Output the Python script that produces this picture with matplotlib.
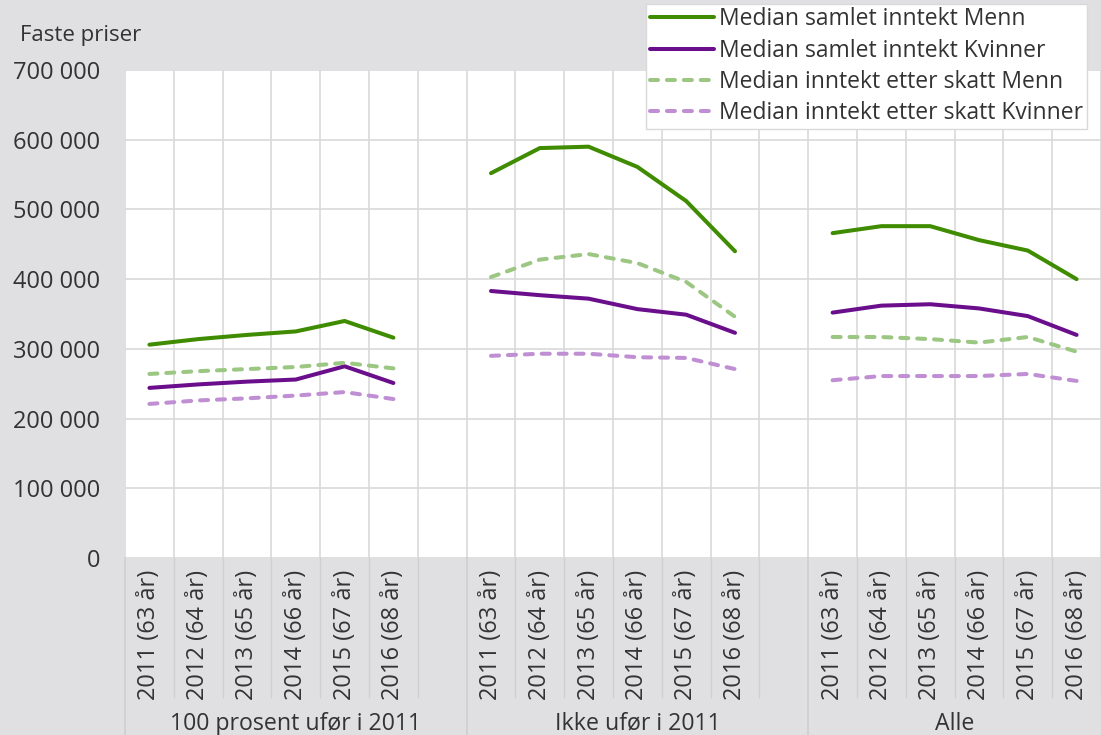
import matplotlib.pyplot as plt
import matplotlib.transforms as mtransforms

plt.rcParams['font.family'] = ['Open Sans', 'DejaVu Sans']

years = ['2011 (63 år)', '2012 (64 år)', '2013 (65 år)', '2014 (66 år)', '2015 (67 år)', '2016 (68 år)']
groups = ['100 prosent ufør i 2011', 'Ikke ufør i 2011', 'Alle']

# values per group, 2011-2016
menn_samlet = [
    [306000, 314000, 320000, 325000, 340000, 316000],
    [552000, 588000, 590000, 561000, 512000, 440000],
    [466000, 476000, 476000, 456000, 441000, 400000],
]
kvinner_samlet = [
    [244000, 249000, 253000, 256000, 275000, 251000],
    [383000, 377000, 372000, 357000, 349000, 323000],
    [352000, 362000, 364000, 358000, 347000, 320000],
]
menn_skatt = [
    [264000, 268000, 271000, 274000, 280000, 272000],
    [403000, 428000, 436000, 423000, 396000, 346000],
    [317000, 317000, 314000, 309000, 317000, 296000],
]
kvinner_skatt = [
    [221000, 226000, 229000, 233000, 238000, 228000],
    [290000, 293000, 293000, 288000, 287000, 271000],
    [255000, 261000, 261000, 261000, 264000, 254000],
]

series = [
    ('Median samlet inntekt Menn', menn_samlet, '#3f8c00', '-'),
    ('Median samlet inntekt Kvinner', kvinner_samlet, '#6a0e8c', '-'),
    ('Median inntekt etter skatt Menn', menn_skatt, '#9cc783', (0, (2.0, 2.2))),
    ('Median inntekt etter skatt Kvinner', kvinner_skatt, '#c08fd3', (0, (2.0, 2.2))),
]

bg = '#e0e0e2'
txt = '#333333'
W, H = 1101, 735
fig = plt.figure(figsize=(W / 100, H / 100), dpi=100, facecolor=bg)
ax = fig.add_axes([125 / W, (H - 558) / H, (W - 125) / W, (558 - 70) / H])
ax.set_facecolor('white')

# slot layout: 6 years + 1 blank per group, last group without blank
group_start = [0, 7, 14]
n_slots = 20

for label, data, color, ls in series:
    for g, start in enumerate(group_start):
        xs = [start + i + 0.5 for i in range(len(years))]
        ax.plot(xs, data[g], color=color, lw=2.9, ls=ls, solid_capstyle='round',
                dash_capstyle='round', label=label if g == 0 else None, zorder=3)

ax.set_xlim(0, n_slots)
ax.set_ylim(0, 700000)
ax.set_yticks(range(0, 700001, 100000))
ax.set_yticklabels(['0' if v == 0 else f'{v // 1000} 000' for v in range(0, 700001, 100000)])
ax.set_xticks([i for i in range(n_slots + 1)])
ax.set_xticklabels([])
ax.grid(True, color='#d9d9d9', lw=1.2)
ax.set_axisbelow(True)
for s in ax.spines.values():
    s.set_visible(False)
ax.tick_params(axis='both', length=0, labelsize=17, colors=txt)
ax.tick_params(axis='y', pad=18)

# category labels under the axis
trans = mtransforms.blended_transform_factory(ax.transData, ax.transAxes)
for start in group_start:
    for i, yl in enumerate(years):
        ax.text(start + i + 0.5, -0.025, yl, rotation=90, ha='center', va='top',
                fontsize=17, color=txt, transform=trans)

sep_color = '#cfcfd2'
for start in group_start:
    for i in range(1, 7):
        ax.plot([start + i, start + i], [0, -0.285], color=sep_color, lw=1,
                transform=trans, clip_on=False)
    ax.plot([start, start], [0, -0.4], color=sep_color, lw=1.2, transform=trans, clip_on=False)

group_centers = [3.5, 10.5, 17]
for gc, gl in zip(group_centers, groups):
    ax.text(gc, -0.34, gl, ha='center', va='center', fontsize=16.7, color=txt, transform=trans)

fig.text(20 / W, 1 - 36 / H, 'Faste priser', ha='left', va='center', fontsize=16, color=txt)

leg = fig.legend(loc='upper right', bbox_to_anchor=(1087 / W, 1 - 4 / H), fontsize=16.5,
                 frameon=True, fancybox=False, edgecolor='#d9d9d9', framealpha=1,
                 handlelength=2.8, handletextpad=0.25, labelspacing=0.32, borderpad=0.15,
                 borderaxespad=0)
for t in leg.get_texts():
    t.set_color(txt)

plt.savefig('out.png', dpi=100, facecolor=bg)
